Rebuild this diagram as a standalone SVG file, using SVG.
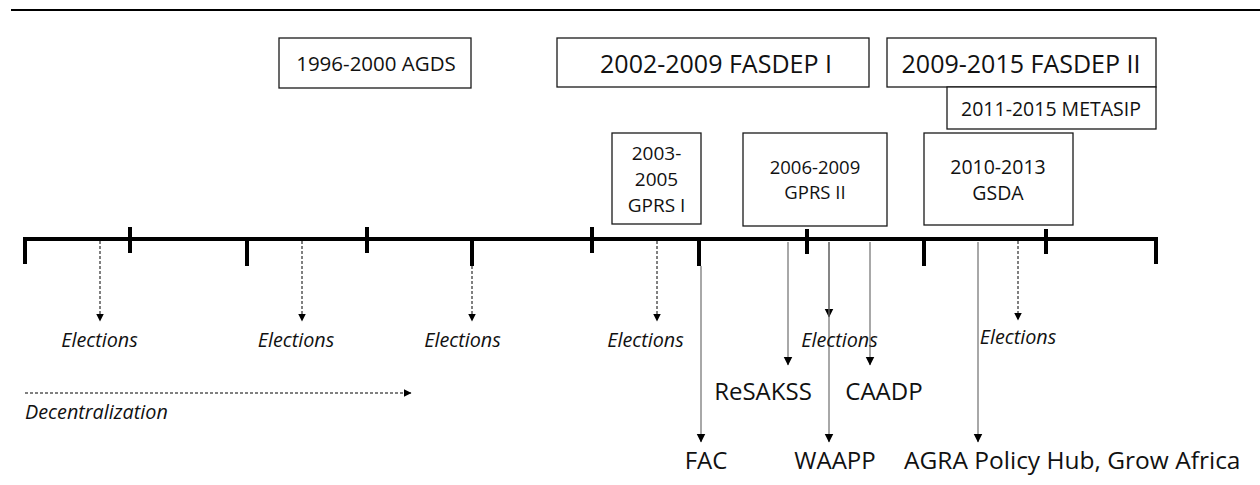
<svg xmlns="http://www.w3.org/2000/svg" width="1260" height="485" viewBox="0 0 1260 485">
  <style>
    .box { fill: #ffffff; stroke: #1a1a1a; stroke-width: 1.3; }
    .lbl { font-family: "Open Sans", "Liberation Sans", sans-serif; fill: #111111; text-anchor: middle; }
    .ital { font-family: "Open Sans", "Liberation Sans", sans-serif; font-style: italic; fill: #111111; text-anchor: middle; font-size: 19.8px; }
    .start { text-anchor: start; }
    .axis { stroke: #000000; stroke-width: 4; fill: none; }
    .tick { stroke: #000000; stroke-width: 4; }
    .dash { stroke: #000000; stroke-width: 1; stroke-dasharray: 3 2; fill: none; }
    .solid { stroke: #6e6e6e; stroke-width: 1.2; fill: none; }
  </style>
  <defs>
    <marker id="headSmall" markerUnits="userSpaceOnUse" markerWidth="8" markerHeight="9" refX="7.5" refY="4" orient="auto">
      <path d="M0,0 L8,4 L0,8 Z" fill="#000000"/>
    </marker>
    <marker id="head" markerUnits="userSpaceOnUse" markerWidth="9" markerHeight="10" refX="8.5" refY="4.5" orient="auto">
      <path d="M0,0 L9,4.5 L0,9 Z" fill="#000000"/>
    </marker>
  </defs>

  <!-- header rule -->
  <line x1="11" y1="10" x2="1260" y2="10" stroke="#000000" stroke-width="2"/>

  <!-- policy frameworks -->
  <g id="agds">
    <rect class="box" x="279" y="38" width="192" height="50"/>
    <text class="lbl" x="376" y="71" font-size="20.5">1996-2000 AGDS</text>
  </g>
  <g id="fasdep1">
    <rect class="box" x="557" y="38" width="312" height="49"/>
    <text class="lbl" x="716" y="73" font-size="25">2002-2009 FASDEP I</text>
  </g>
  <g id="fasdep2">
    <rect class="box" x="887" y="38" width="269" height="49"/>
    <text class="lbl" x="1021" y="73" font-size="25">2009-2015 FASDEP II</text>
  </g>
  <g id="metasip">
    <rect class="box" x="947" y="87" width="209" height="42"/>
    <text class="lbl" x="1051" y="116" font-size="19.5">2011-2015 METASIP</text>
  </g>
  <g id="gprs1">
    <rect class="box" x="612" y="133" width="89" height="91"/>
    <text class="lbl" x="656.5" y="160" font-size="19">2003-</text>
    <text class="lbl" x="656.5" y="186" font-size="19">2005</text>
    <text class="lbl" x="656.5" y="212" font-size="19">GPRS I</text>
  </g>
  <g id="gprs2">
    <rect class="box" x="743" y="133" width="144" height="93"/>
    <text class="lbl" x="815" y="174" font-size="18.5">2006-2009</text>
    <text class="lbl" x="815" y="199" font-size="18.5">GPRS II</text>
  </g>
  <g id="gsda">
    <rect class="box" x="924" y="133" width="149" height="92"/>
    <text class="lbl" x="998" y="174" font-size="19.5">2010-2013</text>
    <text class="lbl" x="998" y="200" font-size="19.5">GSDA</text>
  </g>

  <!-- timeline axis with year ticks -->
  <g id="timeline">
    <path class="axis" d="M25,264 V239 H1156 V264"/>
    <line class="tick" x1="130" y1="227" x2="130" y2="253"/>
    <line class="tick" x1="367" y1="227" x2="367" y2="253"/>
    <line class="tick" x1="592" y1="227" x2="592" y2="253"/>
    <line class="tick" x1="807" y1="229" x2="807" y2="254"/>
    <line class="tick" x1="1046" y1="229" x2="1046" y2="254"/>
    <line class="tick" x1="247" y1="239" x2="247" y2="266"/>
    <line class="tick" x1="472" y1="239" x2="472" y2="266"/>
    <line class="tick" x1="699" y1="239" x2="699" y2="266"/>
    <line class="tick" x1="924" y1="239" x2="924" y2="266"/>
  </g>

  <!-- connectors -->
  <g id="connectors">
    <line class="dash" x1="100" y1="241" x2="100" y2="321" marker-end="url(#headSmall)"/>
    <line class="dash" x1="302" y1="241" x2="302" y2="321" marker-end="url(#headSmall)"/>
    <line class="dash" x1="472" y1="266" x2="472" y2="321" marker-end="url(#headSmall)"/>
    <line class="dash" x1="657" y1="241" x2="657" y2="321" marker-end="url(#headSmall)"/>
    <line class="dash" x1="1018" y1="241" x2="1018" y2="320" marker-end="url(#headSmall)"/>
    <line class="dash" x1="25" y1="393" x2="411" y2="393" marker-end="url(#headSmall)"/>

    <line class="solid" x1="701" y1="266" x2="701" y2="442" marker-end="url(#head)"/>
    <line class="solid" x1="788" y1="242" x2="788" y2="365" marker-end="url(#head)"/>
    <line class="solid" x1="829" y1="242" x2="829" y2="317" marker-end="url(#head)"/>
    <line class="solid" x1="829" y1="242" x2="829" y2="442" marker-end="url(#head)"/>
    <line class="solid" x1="870" y1="242" x2="870" y2="365" marker-end="url(#head)"/>
    <line class="solid" x1="978" y1="242" x2="978" y2="442" marker-end="url(#head)"/>
  </g>

  <!-- event labels -->
  <g id="elections">
    <text class="ital" x="99.5" y="347">Elections</text>
    <text class="ital" x="296" y="347">Elections</text>
    <text class="ital" x="462.5" y="347">Elections</text>
    <text class="ital" x="645.5" y="347">Elections</text>
    <text class="ital" x="839.5" y="347">Elections</text>
    <text class="ital" x="1018" y="344">Elections</text>
  </g>
  <g id="decentralization">
    <text class="ital start" x="25" y="419" font-size="20.5">Decentralization</text>
  </g>
  <g id="resakss"><text class="lbl" x="763" y="400" font-size="24">ReSAKSS</text></g>
  <g id="caadp"><text class="lbl" x="884" y="400" font-size="24">CAADP</text></g>
  <g id="fac"><text class="lbl" x="706" y="469" font-size="24">FAC</text></g>
  <g id="waapp"><text class="lbl" x="835" y="469" font-size="24">WAAPP</text></g>
  <g id="agra"><text class="lbl start" x="904" y="469" font-size="24.5">AGRA Policy Hub, Grow Africa</text></g>
</svg>
